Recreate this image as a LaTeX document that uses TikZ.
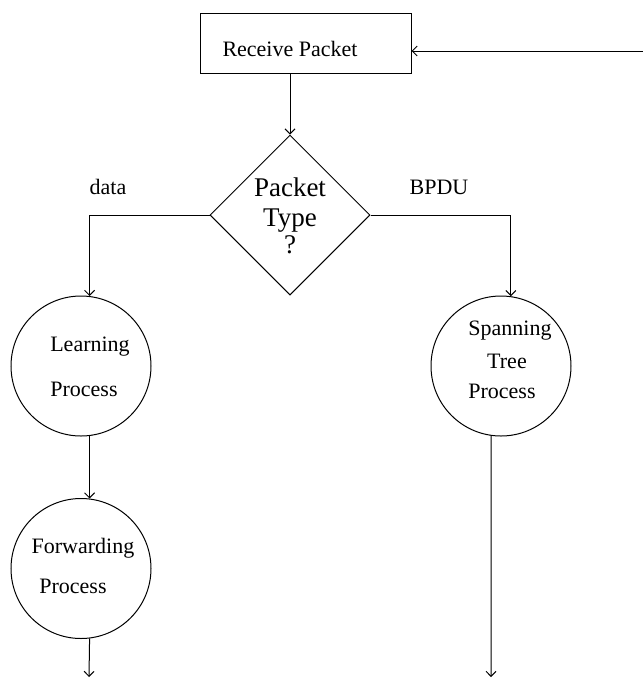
\documentclass[tikz,border=0pt]{standalone}
\usepackage{fontspec}
\setmainfont{Liberation Serif}
\usetikzlibrary{arrows.meta,shapes.geometric}
\begin{document}
\begin{tikzpicture}[x=1pt,y=-1pt,
  every path/.style={line width=1pt},
  conn/.style={draw, -{Straight Barb[length=5pt,width=10pt]}},
  proc/.style={draw, circle, minimum size=140pt, inner sep=0pt},
  lbl/.style={font=\fontsize{22}{26}\selectfont, inner sep=0pt, text height=15pt, text depth=4pt},
  big/.style={font=\fontsize{27}{30}\selectfont, inner sep=0pt, text height=19pt, text depth=5pt}]
\useasboundingbox (0,0) rectangle (643,678);
% shapes
\node[draw, rectangle, minimum width=211pt, minimum height=60pt, inner sep=0pt] (recv) at (305.5,43) {};
\node[lbl] (recvt) at (290,51) {Receive Packet};
\node[draw, diamond, minimum width=160pt, minimum height=160pt, inner sep=0pt] (dec) at (290,215) {};
\node[big] (dt1) at (290,189) {Packet};
\node[big] (dt2) at (290,219) {Type};
\node[big] (dt3) at (290,246) {?};
\node[proc] (learn) at (81,366) {};
\node[lbl] (lt1) at (90,346) {Learning};
\node[lbl] (lt2) at (84,391) {Process};
\node[proc] (fwd) at (81,568.5) {};
\node[lbl] (ft1) at (83,548) {Forwarding};
\node[lbl] (ft2) at (73,588) {Process};
\node[proc] (span) at (501,366) {};
\node[lbl] (st1) at (510,330) {Spanning};
\node[lbl] (st2) at (507,363) {Tree};
\node[lbl] (st3) at (502,393) {Process};
\node[lbl] (data) at (108,189) {data};
\node[lbl] (bpdu) at (439,189) {BPDU};
% free ends
\coordinate (in) at (643,51);
\coordinate (out1) at (89,677);
\coordinate (out2) at (491,677);
% connectors
\draw[conn] (in) -- (in -| recv.east);
\draw[conn] (recv.south -| dec.north) -- (dec.north);
\draw[conn] (dec.west) -| (learn.83);
\draw[conn] (dec.east) -| (span.82);
\draw[conn] (learn.-83) -- (fwd.83);
\draw[conn] (fwd.-83) -- (out1);
\draw[conn] (span.-98) -- (out2);
\end{tikzpicture}
\end{document}
